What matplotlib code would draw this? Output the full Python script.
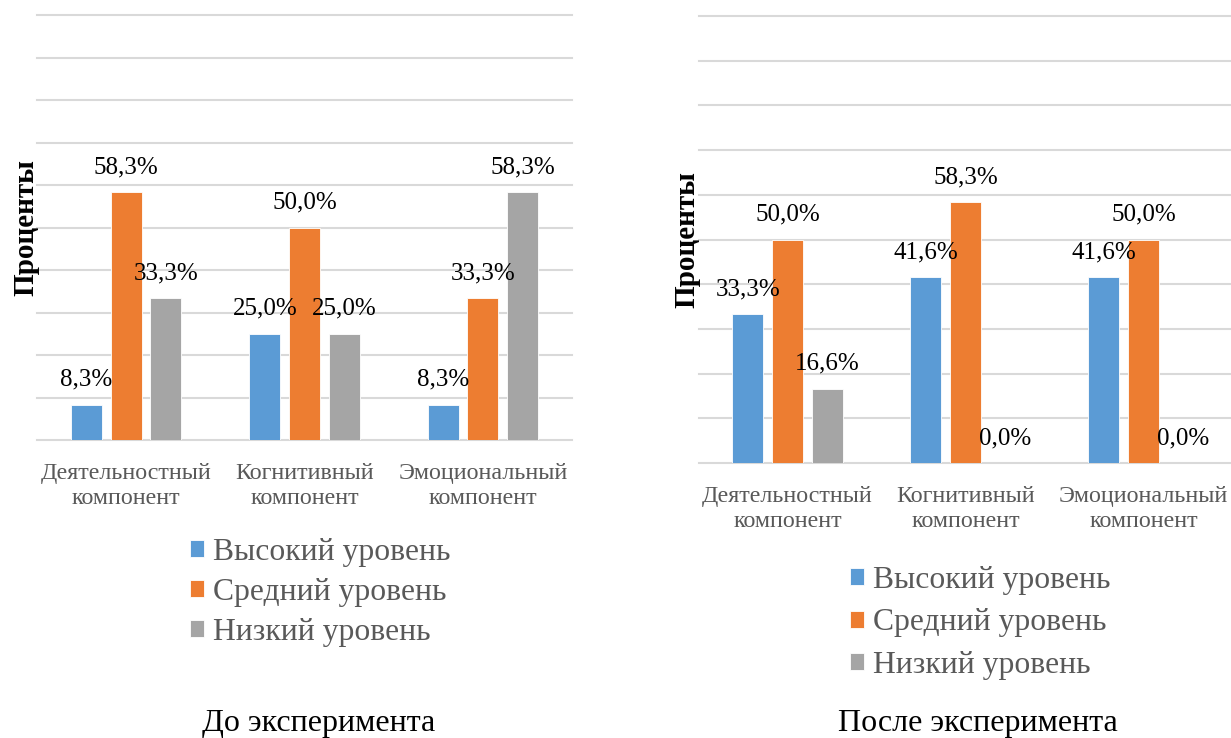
import matplotlib
matplotlib.use("Agg")
import matplotlib.pyplot as plt
import numpy as np

categories = ["Деятельностный\nкомпонент", "Когнитивный\nкомпонент", "Эмоциональный\nкомпонент"]
series_names = ["Высокий уровень", "Средний уровень", "Низкий уровень"]
before_high = [8.3, 25.0, 8.3]
before_mid = [58.3, 50.0, 33.3]
before_low = [33.3, 25.0, 58.3]
after_high = [33.3, 41.6, 41.6]
after_mid = [50.0, 58.3, 50.0]
after_low = [16.6, 0.0, 0.0]
titles = ["До эксперимента", "После эксперимента"]
ylabel = "Проценты"

colors = ["#5B9BD5", "#ED7D31", "#A5A5A5"]
grid_color = "#D9D9D9"
text_gray = "#595959"

plt.rcParams['font.family'] = ['Liberation Serif', 'DejaVu Serif']

W, H = 1231, 738
fig = plt.figure(figsize=(W / 100, H / 100), dpi=100)


def px_axes(l, r, t, b):
    return fig.add_axes([l / W, 1 - b / H, (r - l) / W, (b - t) / H])


panels = [
    dict(data=[before_high, before_mid, before_low], box=(37, 572, 15, 440),
         title=titles[0], title_x=319, leg_x=190, leg_y=538, leg_sp=0.35),
    dict(data=[after_high, after_mid, after_low], box=(698.5, 1232.5, 16, 463),
         title=titles[1], title_x=978, leg_x=850, leg_y=566, leg_sp=0.42),
]

bar_w = 0.174
step = 0.222
x = np.arange(len(categories))

for p in panels:
    ax = px_axes(*p['box'])
    ax.set_xlim(-0.5, len(categories) - 0.5)
    ax.set_ylim(0, 100)
    for s in ax.spines.values():
        s.set_visible(False)
    for g in np.arange(0, 101, 10):
        ax.axhline(g, color=grid_color, lw=1.5, zorder=0, clip_on=False)
    handles = []
    for i, vals in enumerate(p['data']):
        xs = x + (i - 1) * step
        b = ax.bar(xs, vals, width=bar_w, color=colors[i], edgecolor='white',
                   linewidth=0.6, zorder=2, label=series_names[i])
        handles.append(b)
        for xi, v in zip(xs, vals):
            ax.annotate(f"{v:.1f}".replace('.', ',') + "%", (xi, v),
                        xytext=(0, 18), textcoords='offset points',
                        ha='center', va='center', fontsize=18, color='black',
                        zorder=3)
    ax.set_yticks([])
    ax.set_xticks(x)
    ax.set_xticklabels(categories, fontsize=17.3, color=text_gray, linespacing=1.25)
    ax.tick_params(axis='x', length=0, pad=16.5)
    ax.set_ylabel(ylabel, fontsize=21, fontweight='bold', color='black')
    ax.yaxis.set_label_coords(0.004, 0.5)
    leg = ax.legend(handles=handles, loc='upper left',
                    bbox_to_anchor=(p['leg_x'] / W, 1 - p['leg_y'] / H),
                    bbox_transform=fig.transFigure, frameon=False,
                    fontsize=22.8, handlelength=0.45, handleheight=0.45,
                    handletextpad=0.28, labelspacing=p['leg_sp'],
                    borderpad=0, borderaxespad=0)
    for t in leg.get_texts():
        t.set_color(text_gray)
    fig.text(p['title_x'] / W, 1 - 724 / H, p['title'], ha='center', va='center',
             fontsize=23, color='black')

fig.savefig("out.png", dpi=100)
